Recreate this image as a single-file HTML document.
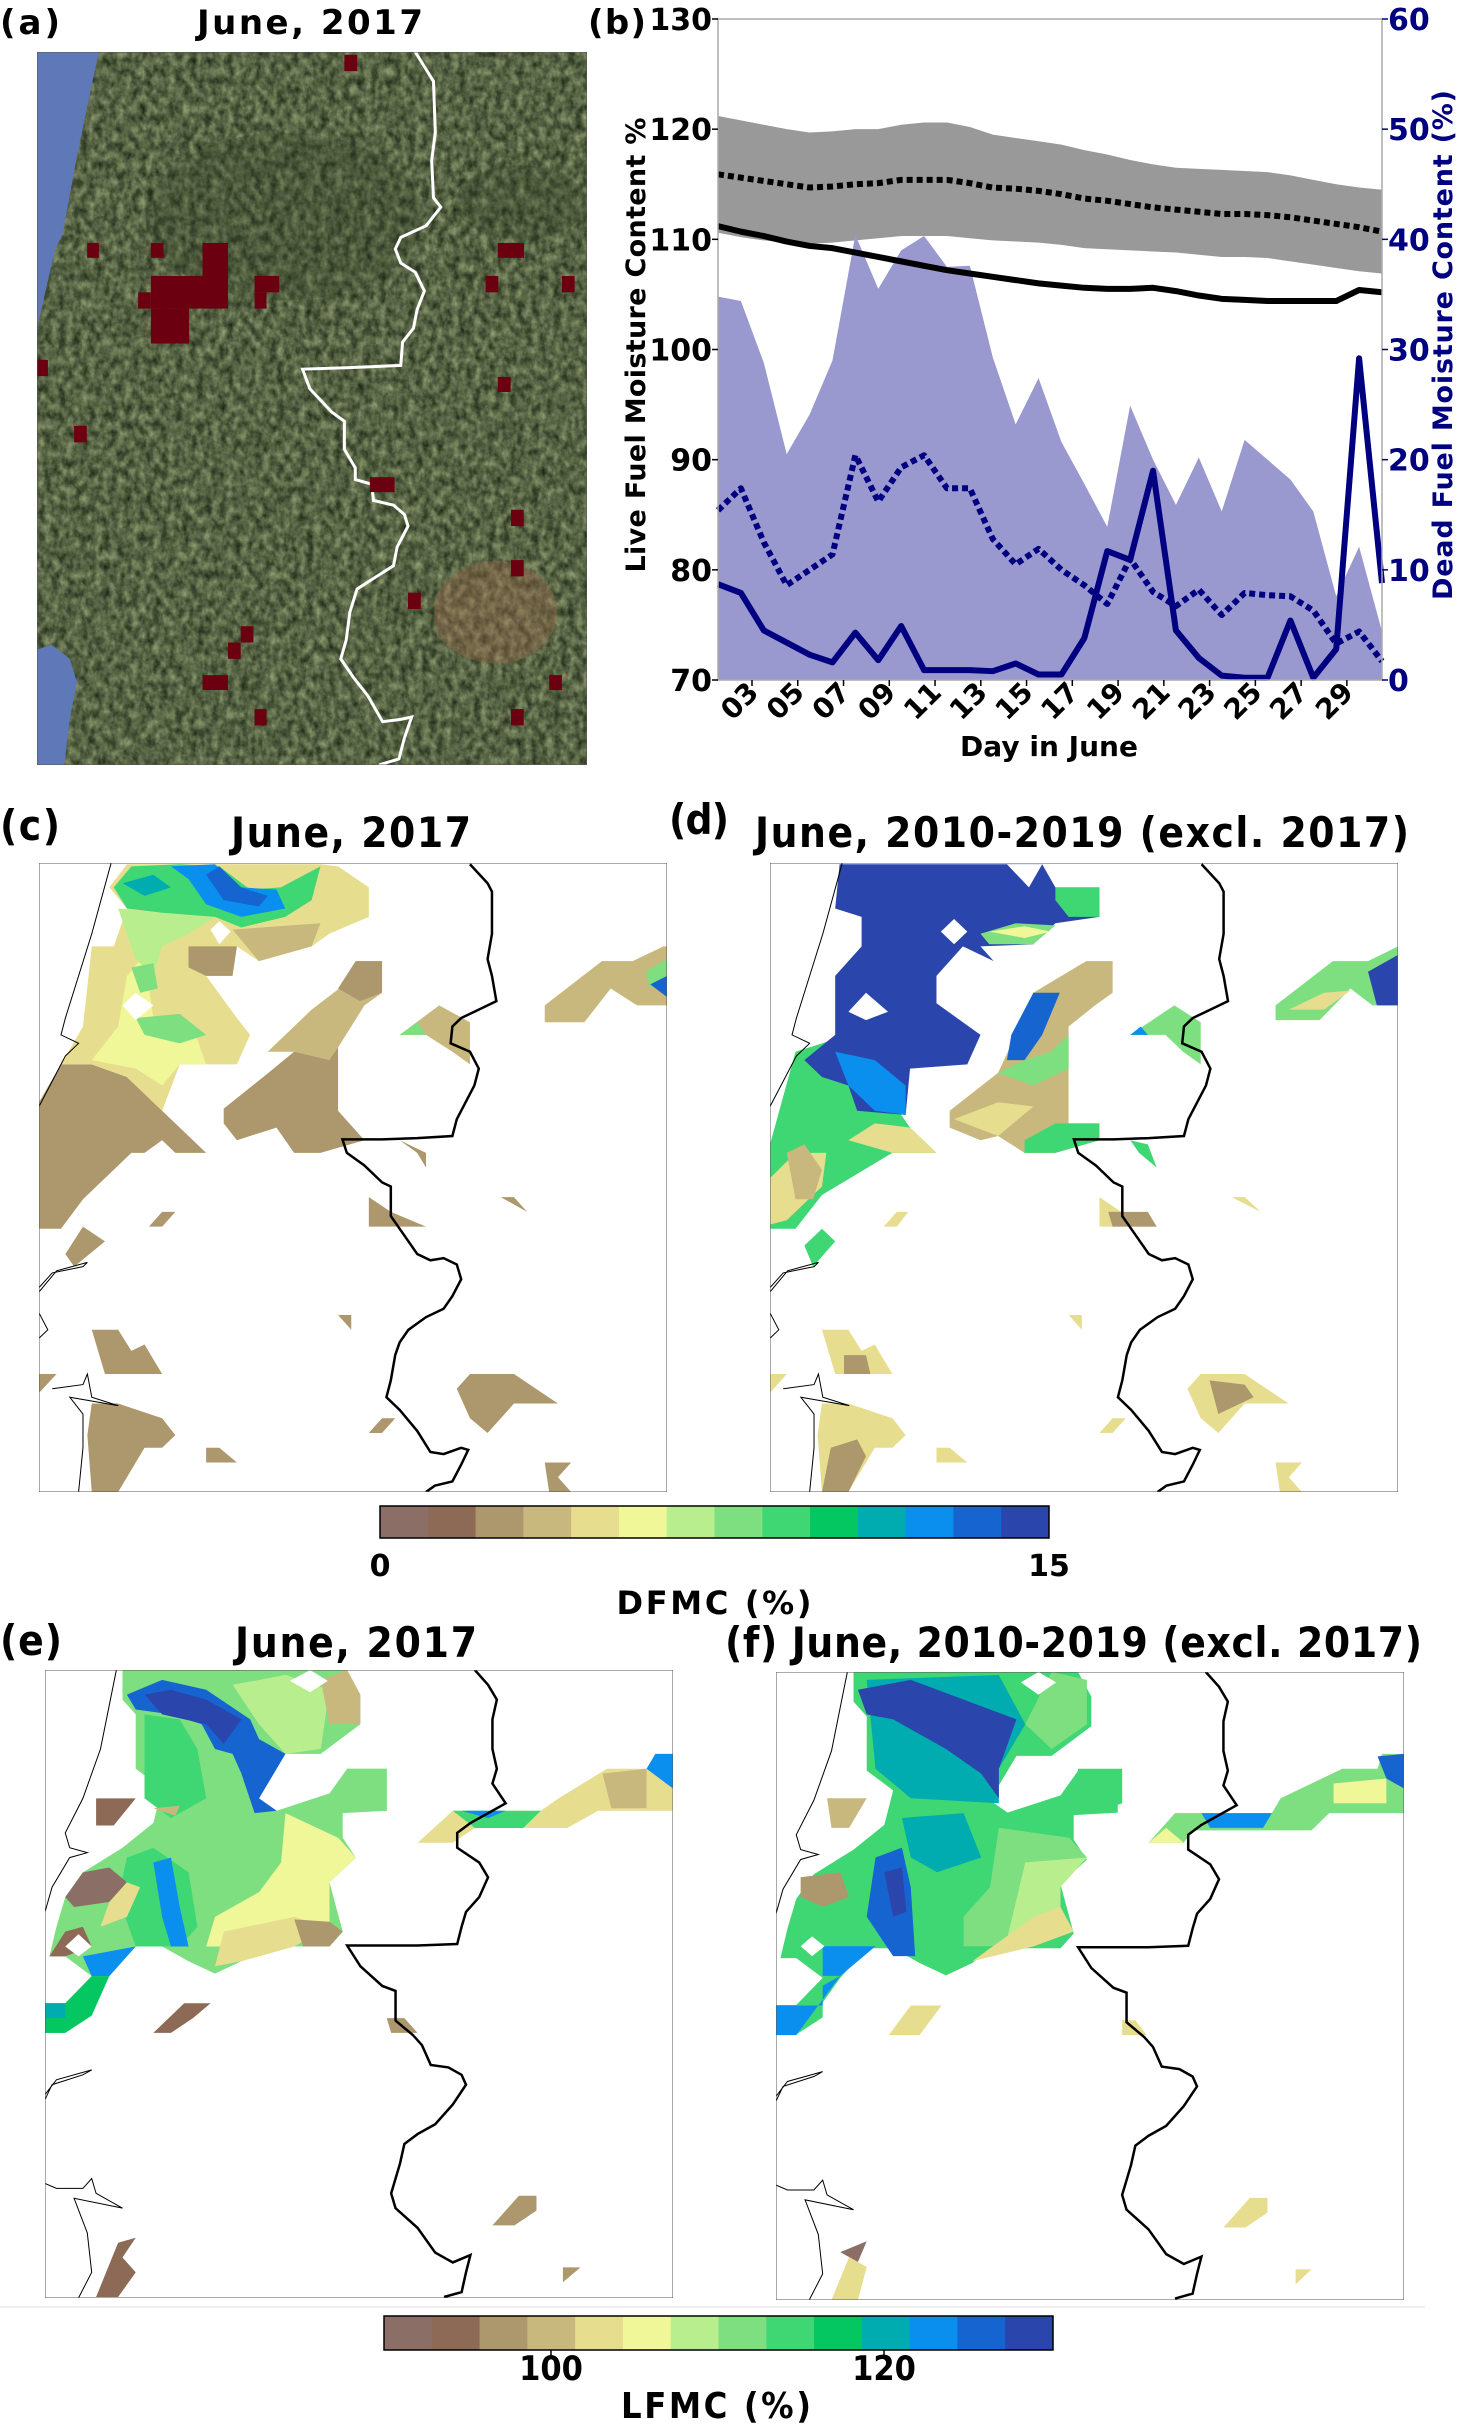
<!DOCTYPE html>
<html><head><meta charset="utf-8">
<style>
html,body{margin:0;padding:0;background:#fff;}
svg{display:block;}
.lab{font-family:"DejaVu Sans","Liberation Sans",sans-serif;font-weight:bold;}
.cnd{font-family:"DejaVu Sans Condensed","Liberation Sans Narrow","Liberation Sans",sans-serif;font-weight:bold;}
</style></head>
<body>
<svg id="page" width="1461" height="2424" viewBox="0 0 1461 2424" xmlns="http://www.w3.org/2000/svg">
<defs>
<filter id="sat" x="0" y="0" width="100%" height="100%" color-interpolation-filters="sRGB">
<feTurbulence type="fractalNoise" baseFrequency="0.05" numOctaves="4" seed="3" result="n"/>
<feColorMatrix in="n" type="matrix" values="0.7 0 0 0 0.0  0.7 0 0 0 0.05  0.55 0 0 0 0.0  0 0 0 0 1"/>
</filter>
<path id="borderCD" d="M500,35 L520,80 525,100 525,200 520,260 525,300 530,360 510,380 490,400 480,420 478,460 500,480 510,520 505,560 495,600 485,640 480,680 440,685 400,688 355,688 360,720 380,750 400,790 410,800 410,870 420,900 430,930 440,960 455,975 470,970 485,985 490,1020 480,1060 470,1090 450,1110 430,1140 420,1170 415,1200 410,1260 405,1300 420,1330 440,1380 455,1430 470,1435 490,1420 498,1425 490,1460 480,1500 460,1510 450,1525" fill="none" stroke="#000" stroke-width="2.5" vector-effect="non-scaling-stroke"/>
<path id="coastCD" d="M92,32 L70,200 55,300 40,400 35,440 55,460 40,490 25,550 10,610 M10,1040 L25,1005 60,990 65,980 30,1000 10,1050 M10,1100 L20,1140 10,1160 M25,1280 L60,1270 65,1245 70,1300 100,1320 45,1300 60,1340 60,1420 55,1525" fill="none" stroke="#000" stroke-width="1" vector-effect="non-scaling-stroke"/>
<path id="borderEF" d="M505,40 L520,70 530,100 525,140 525,200 530,240 525,270 540,310 500,350 485,370 485,400 510,430 520,460 510,500 495,530 490,560 485,595 440,598 360,598 375,640 400,680 415,690 415,750 435,780 445,800 455,840 475,845 490,860 495,880 480,920 460,960 440,980 425,1000 420,1040 410,1100 415,1130 440,1170 460,1220 480,1240 500,1225 495,1260 490,1300 470,1310" fill="none" stroke="#000" stroke-width="2.5" vector-effect="non-scaling-stroke"/>
<path id="coastEF" d="M98,40 L80,200 60,300 40,370 45,400 65,410 45,420 25,480 17,530 M17,910 L25,880 60,860 70,850 30,870 17,900 M17,1080 L30,1090 60,1090 70,1070 75,1100 105,1130 50,1110 65,1180 70,1260 55,1312" fill="none" stroke="#000" stroke-width="1" vector-effect="non-scaling-stroke"/>
</defs>

<text class="lab" x="0" y="34" font-size="34" textLength="60">(a)</text>
<text class="lab" x="197" y="34" font-size="34" textLength="226">June, 2017</text>
<text class="lab" x="588" y="34" font-size="34" textLength="58">(b)</text>
<text class="cnd" x="0" y="840" font-size="42" textLength="60">(c)</text>
<text class="cnd" x="231" y="847" font-size="42" textLength="240">June, 2017</text>
<text class="cnd" x="669" y="834" font-size="42" textLength="60">(d)</text>
<text class="cnd" x="755" y="847" font-size="42" textLength="654">June, 2010-2019 (excl. 2017)</text>
<text class="cnd" x="0" y="1655" font-size="42" textLength="62">(e)</text>
<text class="cnd" x="235" y="1657" font-size="42" textLength="242">June, 2017</text>
<text class="cnd" x="725" y="1657" font-size="42" textLength="697">(f) June, 2010-2019 (excl. 2017)</text>

<svg x="37" y="52" width="550" height="713" viewBox="20 27 1512 1531" preserveAspectRatio="none">
<rect x="20" y="27" width="1512" height="1531" fill="#4f5a3c"/>
<rect x="20" y="27" width="1512" height="1531" filter="url(#sat)" opacity="0.8"/>
<ellipse cx="1280" cy="1230" rx="170" ry="110" fill="#9a6a4e" opacity="0.4"/>
<ellipse cx="700" cy="380" rx="380" ry="180" fill="#2a3a24" opacity="0.25"/>
<ellipse cx="1350" cy="350" rx="180" ry="80" fill="#2a3a24" opacity="0.25"/>
<polygon points="20,27 190,27 170,100 130,250 90,420 70,450 20,620" fill="#5f79b8"/>
<polygon points="20,1310 60,1300 110,1330 130,1380 110,1460 95,1558 20,1558" fill="#5f79b8"/>
<polyline points="1060,27 1110,90 1115,200 1105,260 1110,340 1130,360 1090,400 1020,425 1005,450 1020,480 1060,500 1085,540 1065,580 1055,620 1025,650 1020,700 870,705 750,708 770,750 830,800 865,820 865,880 895,920 895,945 940,955 945,990 1000,1000 1030,1020 1040,1045 1010,1090 1000,1130 960,1150 900,1180 880,1230 870,1290 855,1330 890,1370 930,1410 970,1465 1020,1460 1050,1455 1030,1500 1015,1545 960,1558" fill="none" stroke="#fff" stroke-width="3" vector-effect="non-scaling-stroke"/>
<g fill="#6b0010">
<rect x="865" y="33" width="35" height="35"/><rect x="158" y="437" width="32" height="32"/><rect x="333" y="437" width="35" height="32"/>
<rect x="475" y="437" width="70" height="140"/><rect x="333" y="508" width="212" height="70"/><rect x="298" y="543" width="35" height="35"/>
<rect x="333" y="578" width="105" height="75"/><rect x="618" y="508" width="68" height="35"/><rect x="618" y="543" width="33" height="35"/>
<rect x="20" y="688" width="30" height="35"/><rect x="122" y="830" width="35" height="35"/><rect x="1287" y="437" width="72" height="32"/>
<rect x="1253" y="508" width="35" height="35"/><rect x="1463" y="508" width="35" height="35"/><rect x="1287" y="725" width="35" height="32"/>
<rect x="935" y="940" width="68" height="32"/><rect x="1323" y="1010" width="35" height="35"/><rect x="1323" y="1118" width="35" height="35"/>
<rect x="1040" y="1188" width="35" height="35"/><rect x="580" y="1260" width="35" height="35"/><rect x="545" y="1295" width="35" height="35"/>
<rect x="475" y="1365" width="70" height="32"/><rect x="618" y="1438" width="33" height="35"/><rect x="1428" y="1365" width="35" height="32"/>
<rect x="1323" y="1438" width="35" height="35"/>
</g>
<rect x="20" y="27" width="1512" height="1531" fill="none" stroke="#555" stroke-width="1" vector-effect="non-scaling-stroke"/>
</svg>

<g id="chartB"></g>

<svg x="39" y="863" width="628" height="629" viewBox="10 32 714 1493" preserveAspectRatio="none">
<rect x="10" y="32" width="714" height="1493" fill="#fff"/>
<polygon fill="#ad976c" points="10,600 35,510 70,510 110,540 150,620 200,720 165,720 150,690 130,720 115,720 60,830 35,900 10,900"/>
<polygon fill="#ad976c" points="220,615 265,540 300,480 350,470 350,620 380,690 330,720 300,720 280,660 235,690 220,650"/>
<polygon fill="#e6de8e" points="35,510 60,420 70,230 95,230 110,140 90,90 110,35 330,35 350,40 385,90 385,160 340,200 320,230 260,265 235,230 230,300 200,300 235,400 250,440 235,510 170,510 150,620 110,540 70,510"/>
<polygon fill="#eff798" points="70,500 100,420 110,300 130,250 140,400 190,450 200,510 170,510 150,560 120,520"/>
<polygon fill="#ad976c" points="180,230 235,230 230,300 200,300 180,280"/>
<polygon fill="#c8b87e" points="230,190 330,175 320,230 260,265"/>
<polygon fill="#b8ee8e" points="100,140 150,150 210,160 180,200 150,230 140,300 120,260 110,200"/>
<polygon fill="#7ddf80" points="115,280 140,270 145,330 125,340"/>
<polygon fill="#7ddf80" points="120,400 170,390 200,440 170,460 130,440"/>
<polygon fill="#3fd774" points="95,90 115,40 170,35 215,40 250,95 285,90 330,40 320,120 290,160 240,185 210,160 150,150 110,140"/>
<polygon fill="#0a8fee" points="160,40 210,35 240,90 280,95 290,140 240,160 200,130 180,70"/>
<polygon fill="#1664d0" points="200,60 215,40 240,90 270,110 260,135 220,120"/>
<polygon fill="#00acb0" points="105,80 140,60 160,90 130,110"/>
<polygon fill="#fff" points="105,370 120,340 140,370 120,405"/>
<polygon fill="#fff" points="205,190 215,170 228,195 215,225"/>
<polygon fill="#c8b87e" points="270,480 290,440 320,380 370,300 370,265 400,265 400,340 380,370 350,470 340,500 300,480"/>
<polygon fill="#ad976c" points="350,330 370,265 400,265 400,340 375,360"/>
<polygon fill="#c8b87e" points="420,440 465,370 500,410 500,510 480,480 450,440"/>
<polygon fill="#7ddf80" points="420,440 440,410 450,440"/>
<polygon fill="#c8b87e" points="585,410 585,370 650,265 685,265 720,230 724,230 724,370 690,370 660,330 630,410"/>
<polygon fill="#7ddf80" points="700,290 724,260 724,300 705,330"/>
<polygon fill="#1664d0" points="705,320 724,300 724,350"/>
<g fill="#ad976c">
<polygon points="420,690 450,720 450,755 440,720"/><polygon points="385,825 410,860 450,895 385,895"/><polygon points="535,825 550,825 565,860"/>
<polygon points="135,895 150,860 165,860 150,895"/><polygon points="60,895 85,930 50,990 40,960"/>
<polygon points="70,1140 100,1140 115,1190 130,1175 150,1245 85,1245"/>
<polygon points="485,1280 500,1245 550,1245 600,1315 550,1315 520,1385 500,1350"/>
<polygon points="70,1315 100,1315 150,1350 165,1390 150,1420 130,1420 100,1525 70,1525 65,1390"/>
<polygon points="200,1420 215,1420 235,1455 200,1455"/><polygon points="350,1105 365,1105 365,1140"/>
<polygon points="385,1385 400,1350 415,1350 400,1385"/><polygon points="585,1455 615,1455 600,1490 615,1525 590,1525"/>
<polygon points="10,1245 30,1245 10,1290"/>
</g>
<use href="#coastCD"/><use href="#borderCD"/>
<rect x="10" y="32" width="714" height="1493" fill="none" stroke="#555" stroke-width="1" vector-effect="non-scaling-stroke"/>
</svg>

<svg x="770" y="863" width="628" height="629" viewBox="841 32 713 1493" preserveAspectRatio="none">
<rect x="841" y="32" width="713" height="1493" fill="#fff"/>
<polygon fill="#3fd774" points="841,700 870,480 915,450 930,560 990,630 1000,660 1030,720 980,720 900,820 870,900 841,900"/>
<polygon fill="#e6de8e" points="841,780 870,720 905,720 900,800 860,880 841,890"/>
<polygon fill="#c8b87e" points="860,720 880,700 900,760 890,830 870,830"/>
<polygon fill="#e6de8e" points="930,690 960,650 1000,660 1030,720 980,720"/>
<polygon fill="#2a45ac" points="920,35 1150,35 1165,90 1215,90 1215,160 1165,175 1140,225 1080,230 1095,265 1060,230 1030,300 1030,365 1080,440 1065,510 1000,520 995,630 940,620 930,560 900,540 880,500 915,440 915,300 945,230 945,160 915,140"/>
<polygon fill="#0a8fee" points="915,480 960,500 995,560 995,630 960,620 930,560"/>
<polygon fill="#3fd774" points="1165,90 1215,90 1215,160 1180,160 1165,120"/>
<polygon fill="#7ddf80" points="1080,200 1120,175 1165,180 1140,225 1090,225"/>
<polygon fill="#eff798" points="1090,195 1130,182 1160,195 1130,210"/>
<polygon fill="#fff" points="930,385 950,340 975,385 950,405"/>
<polygon fill="#fff" points="1035,195 1050,165 1065,195 1050,225"/>
<polygon fill="#fff" points="1110,35 1150,35 1135,90"/>
<polygon fill="#c8b87e" points="1045,620 1100,530 1120,440 1140,340 1200,265 1230,265 1230,340 1210,370 1180,420 1180,650 1215,650 1215,690 1165,720 1130,720 1100,680 1080,690 1045,660"/>
<polygon fill="#1664d0" points="1115,440 1140,340 1170,340 1150,440 1130,500 1110,500"/>
<polygon fill="#7ddf80" points="1100,530 1130,500 1160,480 1180,440 1180,520 1140,560"/>
<polygon fill="#e6de8e" points="1050,640 1100,600 1140,610 1100,680"/>
<polygon fill="#3fd774" points="1130,690 1165,650 1215,650 1215,690 1165,720 1130,720"/>
<polygon fill="#7ddf80" points="1250,440 1300,370 1330,410 1330,510 1310,480 1290,440"/>
<polygon fill="#0a8fee" points="1250,440 1262,420 1270,440"/>
<polygon fill="#7ddf80" points="1415,405 1415,370 1480,265 1520,265 1554,230 1554,370 1525,370 1500,330 1465,405"/>
<polygon fill="#e6de8e" points="1430,380 1470,340 1500,335 1470,380"/>
<polygon fill="#2a45ac" points="1520,290 1554,250 1554,370 1530,370"/>
<polygon fill="#3fd774" points="1250,690 1270,700 1280,755 1260,720"/>
<g fill="#e6de8e">
<polygon points="970,895 985,860 998,860 985,895"/><polygon points="1215,825 1240,860 1280,895 1215,895"/><polygon points="1365,825 1380,825 1398,860"/>
<polygon points="841,1245 860,1245 841,1290"/><polygon points="900,1140 930,1140 945,1190 960,1175 980,1245 915,1245"/>
<polygon points="1315,1280 1330,1245 1380,1245 1430,1315 1380,1315 1350,1385 1330,1350"/>
<polygon points="900,1315 930,1315 980,1350 995,1390 980,1420 960,1420 930,1525 900,1525 895,1390"/>
<polygon points="1030,1420 1045,1420 1065,1455 1030,1455"/><polygon points="1180,1105 1195,1105 1195,1140"/>
<polygon points="1215,1385 1230,1350 1245,1350 1230,1385"/><polygon points="1415,1455 1445,1455 1430,1490 1445,1525 1420,1525"/>
</g>
<g fill="#ad976c">
<polygon points="1225,860 1270,860 1280,895 1230,895"/><polygon points="1340,1260 1380,1270 1390,1300 1350,1340"/>
<polygon points="910,1420 940,1400 950,1440 930,1525 900,1525"/><polygon points="925,1200 950,1200 955,1245 925,1245"/>
</g>
<polygon fill="#3fd774" points="880,940 900,900 915,930 890,990"/>
<g transform="translate(831,0)"><use href="#coastCD"/><use href="#borderCD"/></g>
<rect x="841" y="32" width="713" height="1493" fill="none" stroke="#555" stroke-width="1" vector-effect="non-scaling-stroke"/>
</svg>

<g id="cbar1"></g>
<text class="lab" x="380" y="1576" font-size="30" text-anchor="middle">0</text>
<text class="lab" x="1049" y="1576" font-size="30" text-anchor="middle">15</text>
<text class="lab" x="714" y="1614" font-size="32" text-anchor="middle" textLength="195">DFMC (%)</text>

<line x1="0" y1="2307" x2="1425" y2="2307" stroke="#eee" stroke-width="2"/>

<svg x="45" y="1670" width="628" height="628" viewBox="17 40 713 1272" preserveAspectRatio="none">
<rect x="17" y="40" width="713" height="1272" fill="#fff"/>
<polygon fill="#7ddf80" points="105,40 300,40 360,40 375,90 375,150 330,210 290,210 260,300 280,325 340,290 360,240 405,240 405,325 355,330 355,380 370,420 340,470 355,570 340,600 260,600 240,630 210,655 180,630 150,600 120,600 90,660 70,710 70,740 40,775 17,775 17,715 40,715 70,660 40,620 22,620 30,560 40,500 60,450 105,400 140,350 150,280 120,240 120,130 105,100"/>
<polygon fill="#b8ee8e" points="230,70 290,50 340,80 330,200 290,210 260,150"/>
<polygon fill="#c8b87e" points="330,60 360,40 375,90 375,150 340,150"/>
<polygon fill="#fff" points="295,62 318,40 338,62 318,85"/>
<polygon fill="#eff798" points="290,330 350,380 370,420 340,470 340,560 270,560 240,600 200,600 210,540 260,490 285,430"/>
<polygon fill="#e6de8e" points="220,570 300,540 340,560 300,600 240,630 210,640"/>
<polygon fill="#ad976c" points="300,545 340,550 355,570 340,600 310,600"/>
<polygon fill="#3fd774" points="130,130 170,140 190,200 200,300 160,340 130,300"/>
<polygon fill="#3fd774" points="110,420 140,400 180,450 190,560 170,600 120,600 100,500"/>
<polygon fill="#1664d0" points="110,90 150,60 200,80 250,140 260,180 290,210 260,300 280,325 255,330 240,250 230,210 210,200 195,150 160,130 120,120"/>
<polygon fill="#2a45ac" points="130,90 160,80 200,100 240,140 220,190 200,150 150,130"/>
<polygon fill="#0a8fee" points="140,430 160,420 170,520 180,600 160,600 150,540"/>
<polygon fill="#8b6f66" points="40,500 60,450 90,440 110,470 90,510 50,520"/>
<polygon fill="#e6de8e" points="90,510 110,470 125,480 110,540 80,560"/>
<polygon fill="#8c6a55" points="22,620 40,570 60,560 70,600 40,620"/>
<polygon fill="#fff" points="40,600 55,575 70,600 55,620"/>
<polygon fill="#0a8fee" points="60,620 120,600 90,660 70,660"/>
<polygon fill="#05c761" points="17,715 40,715 70,660 90,660 70,740 40,775 17,775"/>
<polygon fill="#00acb0" points="17,715 40,715 40,745 17,745"/>
<polygon fill="#8c6a55" points="75,300 120,300 95,355 75,355"/>
<polygon fill="#c8b87e" points="140,320 170,315 165,335"/>
<polygon fill="#7ddf80" points="360,240 405,240 405,325 370,325 355,290"/>
<polygon fill="#e6de8e" points="440,390 480,325 580,325 600,300 655,240 700,240 710,210 730,210 730,325 645,325 610,360 505,360 480,390"/>
<polygon fill="#3fd774" points="480,325 580,325 560,360 505,360"/>
<polygon fill="#0a8fee" points="490,325 540,325 520,340"/>
<polygon fill="#c8b87e" points="650,250 700,240 700,320 660,320"/>
<polygon fill="#0a8fee" points="700,240 710,210 730,210 730,280"/>
<g fill="#8c6a55">
<polygon points="140,775 175,715 205,715 185,745 160,775"/><polygon points="75,1310 100,1200 120,1190 105,1230 120,1260 100,1310"/>
</g>
<g fill="#ad976c">
<polygon points="405,745 425,745 440,775 410,775"/><polygon points="525,1165 555,1105 575,1105 575,1135 550,1165"/>
<polygon points="605,1250 625,1250 605,1280"/>
</g>
<use href="#coastEF"/><use href="#borderEF"/>
<rect x="17" y="40" width="713" height="1272" fill="none" stroke="#555" stroke-width="1" vector-effect="non-scaling-stroke"/>
</svg>

<svg x="776" y="1672" width="628" height="628" viewBox="847 44 713 1273" preserveAspectRatio="none">
<rect x="847" y="44" width="713" height="1273" fill="#fff"/>
<g transform="translate(830,4)">
<polygon fill="#3fd774" points="105,40 300,40 360,40 375,90 375,150 330,210 290,210 260,300 280,325 340,290 360,240 405,240 405,325 355,330 355,380 370,420 340,470 355,570 340,600 260,600 240,630 210,655 180,630 150,600 120,600 90,660 70,710 70,740 40,775 17,775 17,715 40,715 70,660 40,620 22,620 30,560 40,500 60,450 105,400 140,350 150,280 120,240 120,130 105,100"/>
</g>
<polygon fill="#00acb0" points="950,60 1100,50 1130,150 1100,240 1100,310 1000,300 960,240"/>
<polygon fill="#00acb0" points="990,340 1060,330 1080,420 1030,450 1000,420"/>
<polygon fill="#7ddf80" points="1160,44 1200,60 1200,150 1160,200 1130,150"/>
<polygon fill="#fff" points="1125,65 1145,44 1165,65 1145,90"/>
<polygon fill="#2a45ac" points="940,80 1000,60 1060,100 1120,140 1100,240 1100,300 1080,250 1040,200 980,140 950,130"/>
<polygon fill="#7ddf80" points="1100,360 1180,380 1200,420 1170,470 1170,560 1100,600 1060,600 1060,540 1090,480"/>
<polygon fill="#b8ee8e" points="1130,430 1200,420 1170,480 1170,560 1110,580"/>
<polygon fill="#e6de8e" points="1140,540 1170,520 1185,570 1140,600 1070,630"/>
<polygon fill="#1664d0" points="960,420 990,400 1000,480 1005,620 980,620 950,540"/>
<polygon fill="#2a45ac" points="970,450 990,440 995,530 980,540"/>
<polygon fill="#0a8fee" points="900,600 960,600 920,660 900,660"/>
<polygon fill="#0a8fee" points="847,720 900,720 900,680 920,660 870,780 847,780"/>
<polygon fill="#ad976c" points="875,460 920,450 930,500 900,520 875,500"/>
<polygon fill="#fff" points="875,600 888,580 902,600 888,620"/>
<polygon fill="#c8b87e" points="905,300 950,300 930,360 910,360"/>
<polygon fill="#3fd774" points="1190,240 1240,240 1240,310 1210,330 1185,300"/>
<polygon fill="#7ddf80" points="1270,390 1300,330 1410,330 1420,300 1490,240 1530,240 1535,210 1560,210 1560,330 1475,330 1455,365 1320,365 1310,390"/>
<polygon fill="#0a8fee" points="1330,330 1410,330 1400,360 1340,360"/>
<polygon fill="#eff798" points="1480,270 1540,260 1540,310 1480,310"/>
<polygon fill="#1664d0" points="1530,215 1560,210 1560,280 1540,260"/>
<polygon fill="#eff798" points="1270,390 1290,360 1310,390"/>
<g fill="#e6de8e">
<polygon points="975,780 1000,720 1035,720 1010,780"/><polygon points="1240,750 1255,750 1268,780 1240,780"/>
<polygon points="1355,1170 1385,1110 1405,1110 1405,1140 1380,1170"/><polygon points="1437,1255 1455,1255 1437,1285"/>
</g>
<polygon fill="#8b6f66" points="920,1220 950,1198 940,1240"/>
<polygon fill="#e6de8e" points="910,1317 930,1230 950,1250 940,1317"/>
<g transform="translate(830,4)"><use href="#coastEF"/><use href="#borderEF"/></g>
<rect x="847" y="44" width="713" height="1273" fill="none" stroke="#555" stroke-width="1" vector-effect="non-scaling-stroke"/>
</svg>

<g id="cbar2"></g>
<text class="cnd" x="551" y="2380" font-size="34" text-anchor="middle">100</text>
<text class="cnd" x="884" y="2380" font-size="34" text-anchor="middle">120</text>
<text class="cnd" x="716" y="2418" font-size="36" text-anchor="middle" textLength="190">LFMC (%)</text>
</svg>

<script>
const days = [1,2,3,4,5,6,7,8,9,10,11,12,13,14,15,16,17,18,19,20,21,22,23,24,25,26,27,28,29,30];
const lfmcUpper = [121.2,120.8,120.4,120.0,119.7,119.8,120.0,120.0,120.4,120.6,120.6,120.2,119.5,119.2,118.9,118.6,118.1,117.7,117.2,116.8,116.5,116.4,116.3,116.2,116.1,115.8,115.4,115.0,114.7,114.5];
const lfmcLower = [110.6,110.2,109.9,109.7,109.6,109.7,109.9,110.1,110.3,110.3,110.3,110.1,109.9,109.8,109.7,109.5,109.2,109.1,109.0,108.9,108.8,108.6,108.4,108.4,108.3,108.0,107.7,107.4,107.1,106.9];
const lfmcMeanClim = [115.9,115.6,115.3,115.0,114.7,114.8,115.0,115.1,115.4,115.4,115.4,115.1,114.7,114.6,114.4,114.1,113.7,113.5,113.2,112.9,112.7,112.5,112.3,112.3,112.2,112.0,111.7,111.4,111.1,110.7];
const lfmc2017 = [111.2,110.7,110.3,109.8,109.4,109.2,108.8,108.4,108.0,107.6,107.2,106.9,106.6,106.3,106.0,105.8,105.6,105.5,105.5,105.6,105.3,104.9,104.6,104.5,104.4,104.4,104.4,104.4,105.4,105.2];
const dfmcUpper = [34.8,34.4,28.8,20.5,24.1,29.0,40.4,35.5,39.0,40.3,37.5,37.6,29.3,23.2,27.4,21.6,17.8,13.9,24.9,20.0,15.9,20.2,15.3,21.8,20.0,18.2,15.3,7.6,12.1,4.4];
const dfmcMeanClim = [15.4,17.4,12.5,8.6,10.0,11.4,20.4,16.2,19.3,20.4,17.4,17.4,12.8,10.5,11.9,10.0,8.6,6.9,11.0,8.0,6.7,8.2,5.9,7.9,7.7,7.6,6.3,3.3,4.4,1.7];
const dfmc2017 = [8.7,7.9,4.5,3.4,2.3,1.6,4.3,1.8,4.9,0.9,0.9,0.9,0.8,1.5,0.5,0.5,3.8,11.7,10.9,19.0,4.5,2.0,0.4,0.2,0.2,5.4,0.2,2.8,29.2,8.8];
const leftTicks = [70,80,90,100,110,120,130];
const rightTicks = [0,10,20,30,40,50,60];
const xTickDays = [3,5,7,9,11,13,15,17,19,21,23,25,27,29];
const xTickLabels = ["03","05","07","09","11","13","15","17","19","21","23","25","27","29"];
const cmap = ["#8b6f66","#8c6a55","#ad976c","#c8b87e","#e6de8e","#eff798","#b8ee8e","#7ddf80","#3fd774","#05c761","#00acb0","#0a8fee","#1664d0","#2a45ac"];

const NS = "http://www.w3.org/2000/svg";
function mk(tag, attrs, parent){ const e=document.createElementNS(NS,tag); for(const k in attrs) e.setAttribute(k,attrs[k]); parent.appendChild(e); return e; }

const PL=718, PR=1382, PT=19, PB=680;
const xData = i => PL + i*(PR-PL)/(days.length-1);
const xDay = d => 752 + (d-3)*22.88;
const yL = v => PT + (130-v)*(PB-PT)/60;
const yR = v => PB - v*(PB-PT)/60;

const g = document.getElementById('chartB');
mk('rect',{x:PL,y:PT,width:PR-PL,height:PB-PT,fill:'#fff'},g);

let pts = days.map((d,i)=>xData(i)+','+yL(lfmcUpper[i]));
pts = pts.concat(days.map((d,i)=>xData(i)+','+yL(lfmcLower[i])).reverse());
const band = mk('polygon',{points:pts.join(' '),fill:'#999999'},g);



let pp = days.map((d,i)=>xData(i)+','+yR(dfmcUpper[i]));
pp.push(xData(days.length-1)+','+yR(0)); pp.push(xData(0)+','+yR(0));
const area = mk('polygon',{points:pp.join(' '),fill:'#9998cf'},g);



function line(vals, yf, color, dash, name){
  const el = mk('polyline',{points:vals.map((v,i)=>xData(i)+','+yf(v)).join(' '),fill:'none',stroke:color,'stroke-width':6,'stroke-linejoin':'round'},g);
  if(dash) el.setAttribute('stroke-dasharray',dash);
  
  
}
line(lfmcMeanClim, yL, '#000', '6,4', 'lfmc-climatology-line');
line(lfmc2017, yL, '#000', null, 'lfmc-2017-line');
line(dfmcMeanClim, yR, '#000080', '6,4', 'dfmc-climatology-line');
line(dfmc2017, yR, '#000080', null, 'dfmc-2017-line');

mk('rect',{x:PL,y:PT,width:PR-PL,height:PB-PT,fill:'none',stroke:'#aaa','stroke-width':1.5},g);

leftTicks.forEach(v=>{
  mk('line',{x1:PL-6,y1:yL(v),x2:PL,y2:yL(v),stroke:'#000','stroke-width':1.5},g);
  const t = mk('text',{x:PL-6,y:yL(v)+11,'font-size':30,'text-anchor':'end',class:'lab'},g);
  t.textContent = v;
  
  
});
rightTicks.forEach(v=>{
  mk('line',{x1:PR,y1:yR(v),x2:PR+6,y2:yR(v),stroke:'#000080','stroke-width':1.5},g);
  const t = mk('text',{x:PR+6,y:yR(v)+11,'font-size':30,'text-anchor':'start',fill:'#000080',class:'lab'},g);
  t.textContent = v;
  
  
});
xTickDays.forEach((d,i)=>{
  const x = xDay(d);
  mk('line',{x1:x,y1:PB,x2:x,y2:PB+6,stroke:'#000','stroke-width':1.5},g);
  const t = mk('text',{x:x+8,y:PB+14,'font-size':28,'text-anchor':'end',class:'lab',transform:'rotate(-45 '+(x+8)+' '+(PB+14)+')'},g);
  t.textContent = xTickLabels[i];
  
  
});
let t1 = mk('text',{x:1049,y:756,'font-size':28,'text-anchor':'middle',class:'lab',textLength:178},g);
t1.textContent='Day in June';


let t2 = mk('text',{x:0,y:0,'font-size':27,'text-anchor':'middle',class:'lab',textLength:455,transform:'translate(645 345) rotate(-90)'},g);
t2.textContent='Live Fuel Moisture Content %';


let t3 = mk('text',{x:0,y:0,'font-size':27,'text-anchor':'middle',fill:'#000080',class:'lab',textLength:510,transform:'translate(1452 345) rotate(-90)'},g);
t3.textContent='Dead Fuel Moisture Content (%)';



function cbar(id, x0, x1, y, h){
  const cg = document.getElementById(id);
  const w = (x1-x0)/cmap.length;
  cmap.forEach((c,i)=>{
    const r = mk('rect',{x:x0+i*w,y:y,width:w+0.5,height:h,fill:c},cg);
    
    
  });
  mk('rect',{x:x0,y:y,width:x1-x0,height:h,fill:'none',stroke:'#000','stroke-width':1.5},cg);
}
cbar('cbar1', 380, 1049, 1506, 32);
cbar('cbar2', 384, 1053, 2316, 34);
mk('line',{x1:551,y1:2350,x2:551,y2:2357,stroke:'#000','stroke-width':1.5},document.getElementById('cbar2'));
mk('line',{x1:884,y1:2350,x2:884,y2:2357,stroke:'#000','stroke-width':1.5},document.getElementById('cbar2'));
</script>
</body></html>
